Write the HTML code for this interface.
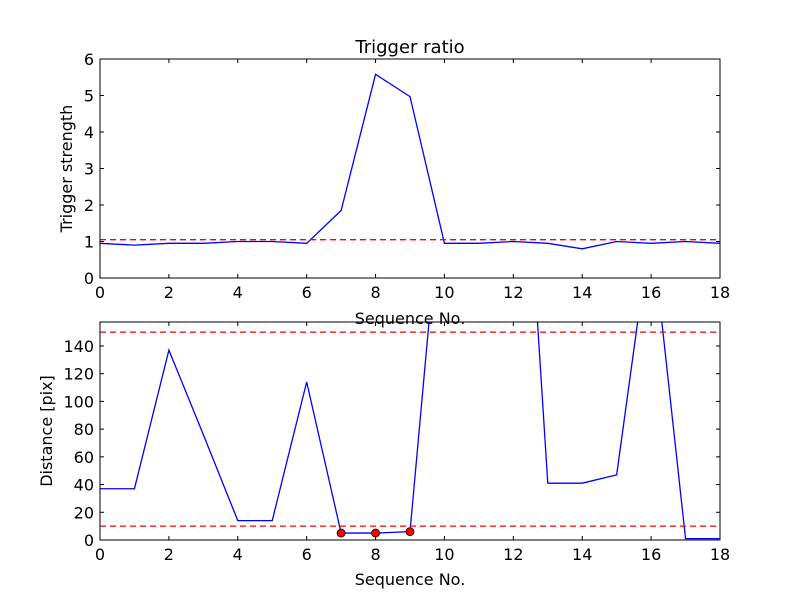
<!DOCTYPE html>
<html><head><meta charset="utf-8"><style>body{margin:0;background:#fff}svg text{font-family:"DejaVu Sans","Liberation Sans",sans-serif}</style></head>
<body>
<svg id="c" width="800" height="600" xmlns="http://www.w3.org/2000/svg">
<rect width="800" height="600" fill="#fff"/>
<defs>
<clipPath id="cp1"><rect x="100" y="59" width="620" height="219"/></clipPath>
<clipPath id="cp2"><rect x="100" y="322" width="620" height="218"/></clipPath>
</defs>
</svg>
<script>
const seq = [0,1,2,3,4,5,6,7,8,9,10,11,12,13,14,15,16,17,18];
const trigger = [0.95,0.9,0.95,0.95,1.0,1.0,0.95,1.85,5.58,4.97,0.95,0.95,1.0,0.95,0.8,1.0,0.95,1.0,0.95];
const triggerThreshold = 1.05;
const distance = [37,37,137,76,14,14,114,5,5,6,280,350,430,41,41,47,228,1,1];
const distLow = 10, distHigh = 150;
const markedIdx = [7,8,9];
const xTicks = [0,2,4,6,8,10,12,14,16,18];
const yTicksTop = [0,1,2,3,4,5,6];
const yTicksBot = [0,20,40,60,80,100,120,140];

const svg = document.getElementById('c');
const NS = 'http://www.w3.org/2000/svg';
function mk(tag, attrs, parent){const e=document.createElementNS(NS,tag);for(const k in attrs)e.setAttribute(k,attrs[k]);(parent||svg).appendChild(e);return e;}
const X0=100,X1=720;
const xs = v => X0 + (v-0)/18*(X1-X0);

function panel(top, bot, ymin, ymax, yTicks, clip, ylabel, name){
  const ys = v => bot - (v-ymin)/(ymax-ymin)*(bot-top);
  return ys;
}
function axes(top, bot, ys, yTicks, ylabel, name, xlabelY){
  const g = mk('g',{});
  
  
  xTicks.forEach(t=>{
    const x=xs(t);
    mk('line',{x1:x,x2:x,y1:bot,y2:bot-4,stroke:'#000'},g);
    mk('line',{x1:x,x2:x,y1:top,y2:top+4,stroke:'#000'},g);
    const tx=mk('text',{x:x,y:bot+20,'text-anchor':'middle','font-size':16},g);tx.textContent=t;
    
    
  });
  yTicks.forEach(t=>{
    const y=ys(t);
    mk('line',{x1:X0,x2:X0+4,y1:y,y2:y,stroke:'#000'},g);
    mk('line',{x1:X1,x2:X1-4,y1:y,y2:y,stroke:'#000'},g);
    const tx=mk('text',{x:X0-6,y:y+6,'text-anchor':'end','font-size':16},g);tx.textContent=t;
    
    
  });
  mk('rect',{x:X0,y:top,width:X1-X0,height:bot-top,fill:'none',stroke:'#000'},g);
  const xl=mk('text',{x:410,y:xlabelY,'text-anchor':'middle','font-size':16},g);xl.textContent='Sequence No.';
  
  
  const cy=(top+bot)/2;
  const yl=mk('text',{x:0,y:0,'text-anchor':'middle','font-size':16,transform:`translate(${name==='top'?72:52},${cy}) rotate(-90)`},g);yl.textContent=ylabel;
  
  
}
function series(vals, ys, clip, name){
  const d = vals.map((v,i)=>(i?'L':'M')+xs(seq[i])+','+ys(v)).join(' ');
  const p=mk('path',{d:d,fill:'none',stroke:'#0000ff','stroke-width':1.3,'clip-path':`url(#${clip})`});
  
  
}
function hline(v, ys, name){
  const l=mk('line',{x1:X0,x2:X1,y1:ys(v),y2:ys(v),stroke:'#ff0000','stroke-width':1.3,'stroke-dasharray':'6,4'});
  
  
}

// top
const ysT = v => 278 - v/6*(278-59);
series(trigger, ysT, 'cp1', 'trigger-line');
hline(triggerThreshold, ysT, 'trigger-threshold-line');
axes(59,278,ysT,yTicksTop,'Trigger strength','top',324);
const title=mk('text',{x:410,y:53,'text-anchor':'middle','font-size':18});title.textContent='Trigger ratio';



// bottom
const ysB = v => 540 - v*1.386;
series(distance, ysB, 'cp2', 'distance-line');
hline(distLow, ysB, 'distance-low-threshold');
hline(distHigh, ysB, 'distance-high-threshold');
markedIdx.forEach(i=>{
  const c=mk('circle',{cx:xs(seq[i]),cy:ysB(distance[i]),r:4,fill:'#ff0000',stroke:'#000','stroke-width':0.8});
  
  
});
axes(322,540,ysB,yTicksBot,'Distance [pix]','bottom',585);
</script>
</body></html>
